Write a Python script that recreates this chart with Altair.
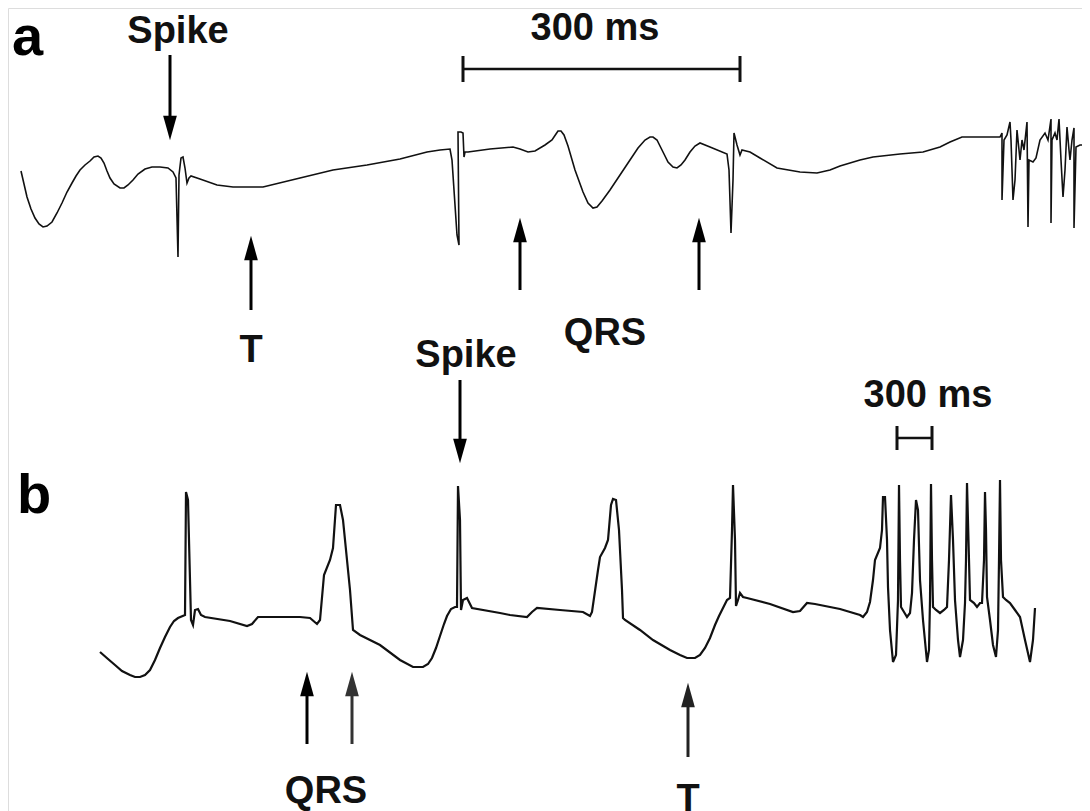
import altair as alt
import pandas as pd

# ---- trace a (time in px-units, amplitude in px-units, downward positive) ----
trace_a_t = [21, 24, 27, 31, 35, 39, 43, 47, 52, 57, 62, 67, 72, 76, 80, 85, 90, 94, 98, 101, 104, 107,
             110, 114, 120, 124, 128, 133, 138, 145, 152, 160, 168, 173, 176,
             178, 179, 181, 183, 185, 187, 189, 191, 200, 217, 233, 263, 300, 333, 367, 400, 427, 440,
             450, 452, 455, 457, 459, 458, 461, 463, 464, 465, 468, 490, 513, 520, 528, 535, 545, 552,
             556, 558, 561, 564, 568, 575, 583, 588, 593, 597, 602, 610, 620, 630, 638, 645, 650, 653, 657,
             660, 664, 668, 673, 677, 681, 685, 690, 695, 700,
             710, 727, 729, 731, 733, 734, 737, 740, 742, 746, 750, 760, 777, 800, 817, 830, 840, 860,
             873, 900, 923, 940, 950, 962, 1000, 1002, 1002, 1004, 1007, 1010, 1011, 1013, 1015, 1017,
             1019, 1020, 1022, 1024, 1027, 1028, 1029, 1033, 1036, 1040, 1045, 1048, 1051, 1051, 1052,
             1055, 1057, 1059, 1061, 1063, 1065, 1067, 1069, 1070, 1072, 1074, 1074, 1076, 1080, 1090]
trace_a_v = [171, 184, 197, 209, 218, 224, 227, 226, 222, 213, 203, 192, 183, 176, 170, 165, 161, 157, 156, 158, 163, 171,
             178, 184, 188, 188, 185, 180, 174, 169, 167, 167, 168, 172, 178,
             257, 175, 158, 157, 168, 183, 178, 176, 179, 185, 187, 187, 178, 170, 165, 159, 152, 150,
             149, 160, 205, 235, 245, 132, 132, 133, 157, 152, 152, 149, 147, 149, 152, 151, 145, 140,
             134, 131, 131, 135, 146, 170, 192, 203, 208, 207, 201, 190, 175, 160, 148, 140, 137, 137, 140,
             146, 154, 162, 167, 168, 165, 160, 152, 146, 143,
             147, 154, 170, 233, 180, 133, 145, 155, 150, 151, 152, 158, 168, 172, 173, 170, 166, 160,
             157, 154, 152, 147, 142, 137, 137, 133, 200, 140, 135, 122, 140, 200, 180, 130,
             150, 160, 140, 150, 122, 227, 160, 162, 158, 140, 133, 140, 119, 223, 140,
             133, 140, 119, 160, 197, 170, 127, 150, 160, 140, 128, 228, 147, 145, 145]

# ---- trace b ----
trace_b_t = [100, 108, 115, 122, 130, 135, 140, 145, 150, 155, 160, 165, 170, 174, 178, 185, 186, 188, 191, 193, 195, 198, 201, 205, 230, 247,
             252, 258, 262, 300, 310, 317, 320, 324, 330, 333, 336, 340, 343, 350, 353, 360, 380, 400,
             413, 423, 428, 432, 436, 440, 444, 447, 451, 455, 457, 458, 460, 461, 463, 467, 472, 500, 510, 527, 532, 537,
             560, 583, 590, 592, 598, 600, 605, 608, 611, 613, 616, 619, 622, 623, 625, 640, 653, 670,
             680, 687, 695, 700, 705, 710, 715, 719, 722, 727, 730, 732, 733, 735, 736, 738, 740, 743, 747, 770, 793, 800,
             807, 815, 840, 860, 863, 867, 870, 873, 875, 880, 882, 883, 885, 887, 888, 890, 893, 896,
             898, 899, 900, 901, 904, 907, 910, 912, 914, 916, 918, 920, 923, 927, 929, 930, 931, 932,
             933, 936, 940, 944, 947, 949, 951, 953, 955, 958, 960, 963, 965, 966, 967, 969, 970, 974,
             977, 980, 982, 984, 985, 986, 987, 990, 993, 996, 998, 999, 1000, 1001, 1003, 1006, 1010,
             1015, 1020, 1025, 1030, 1033, 1035]
trace_b_v = [652, 659, 665, 671, 675, 677, 677, 675, 670, 660, 648, 637, 627, 621, 618, 615, 492, 500, 620, 625, 610, 609, 615, 617, 621, 626,
             624, 617, 617, 617, 618, 624, 620, 575, 560, 548, 505, 505, 520, 590, 630, 635, 645, 660,
             667, 667, 664, 658, 648, 636, 624, 616, 609, 607, 607, 486, 520, 610, 600, 598, 608, 613, 615, 617, 612, 608,
             610, 612, 616, 612, 570, 557, 548, 540, 505, 499, 500, 530, 590, 618, 620, 630, 640, 650,
             655, 658, 658, 655, 648, 638, 625, 616, 610, 600, 598, 530, 485, 540, 606, 600, 593, 597, 598, 604, 612, 611,
             603, 604, 609, 615, 617, 612, 602, 580, 560, 548, 530, 497, 497, 540, 587, 630, 662, 655,
             600, 485, 560, 607, 612, 617, 613, 593, 540, 500, 510, 580, 620, 662, 650, 600, 484, 560,
             607, 610, 613, 610, 607, 560, 495, 540, 600, 640, 657, 640, 603, 560, 483, 560, 600, 603,
             607, 603, 603, 560, 492, 530, 597, 620, 645, 657, 630, 560, 480, 560, 597, 600, 603,
             610, 617, 640, 662, 640, 608]

# ---- annotations ----
label_text = ["a", "b"]
label_x = [12, 17]
label_y = [55, 513]

ann_text = ["Spike", "300 ms", "T", "QRS", "Spike", "300 ms", "QRS", "T"]
ann_x = [178, 595, 251, 605, 466, 928, 326, 688]
ann_y = [43, 40, 362, 345, 367, 407, 803, 811]

# arrows: x, tip y, tail y
arrow_x = [170, 251, 520, 699, 460, 307, 352, 688]
arrow_tip = [140, 236, 218, 218, 463, 672, 672, 683]
arrow_tail = [55, 310, 290, 290, 380, 744, 744, 757]
arrow_color = ["#000000", "#000000", "#000000", "#000000", "#000000", "#000000", "#333333", "#222222"]

# scale bars: x start, x end, y
bar_x1 = [463, 897]
bar_x2 = [740, 932]
bar_y = [69, 438]
bar_tick_half = [13, 12]

W, H = 1074, 803
xs = alt.Scale(domain=[8, 8 + W], nice=False, zero=False)
ys = alt.Scale(domain=[8, 8 + H], nice=False, zero=False, reverse=True)
X = lambda f: alt.X(f, type="quantitative", scale=xs, axis=None)
Y = lambda f: alt.Y(f, type="quantitative", scale=ys, axis=None)

df_a = pd.DataFrame({"t": trace_a_t, "v": trace_a_v, "i": range(len(trace_a_t))})
df_b = pd.DataFrame({"t": trace_b_t, "v": trace_b_v, "i": range(len(trace_b_t))})

line_a = alt.Chart(df_a).mark_line(color="#111111", strokeWidth=1.6, clip=True).encode(
    x=X("t"), y=Y("v"), order="i:Q")
line_b = alt.Chart(df_b).mark_line(color="#111111", strokeWidth=2.2, clip=True).encode(
    x=X("t"), y=Y("v"), order="i:Q")

df_arrow = pd.DataFrame({"x": arrow_x, "tip": arrow_tip, "tail": arrow_tail, "c": arrow_color})
df_arrow["up"] = df_arrow["tip"] < df_arrow["tail"]
df_arrow["head"] = [t + 12 if u else t - 12 for t, u in zip(df_arrow["tip"], df_arrow["up"])]
df_arrow["shaft_end"] = df_arrow["head"]

shafts = alt.Chart(df_arrow).mark_rule(strokeWidth=3).encode(
    x=X("x"), y=Y("tail"), y2="shaft_end:Q", color=alt.Color("c:N", scale=None))
heads_up = alt.Chart(df_arrow[df_arrow["up"]]).mark_point(
    shape="M -0.56 1 L 0 -1 L 0.56 1 Z", filled=True, size=600, opacity=1, strokeWidth=0).encode(
    x=X("x"), y=Y("head"), color=alt.Color("c:N", scale=None))
heads_down = alt.Chart(df_arrow[~df_arrow["up"]]).mark_point(
    shape="M -0.56 -1 L 0 1 L 0.56 -1 Z", filled=True, size=600, opacity=1, strokeWidth=0).encode(
    x=X("x"), y=Y("head"), color=alt.Color("c:N", scale=None))

df_bar = pd.DataFrame({"x1": bar_x1, "x2": bar_x2, "y": bar_y, "h": bar_tick_half})
df_bar["ytop"] = df_bar["y"] - df_bar["h"]
df_bar["ybot"] = df_bar["y"] + df_bar["h"]
bars = alt.Chart(df_bar).mark_rule(strokeWidth=2.5, color="#111111").encode(
    x=X("x1"), x2="x2:Q", y=Y("y"))
ticks_l = alt.Chart(df_bar).mark_rule(strokeWidth=3, color="#111111").encode(
    x=X("x1"), y=Y("ytop"), y2="ybot:Q")
ticks_r = alt.Chart(df_bar).mark_rule(strokeWidth=3, color="#111111").encode(
    x=X("x2"), y=Y("ytop"), y2="ybot:Q")

df_ann = pd.DataFrame({"text": ann_text, "x": ann_x, "y": ann_y})
texts = alt.Chart(df_ann).mark_text(
    font="Liberation Sans", fontWeight="bold", fontSize=38, align="center", baseline="alphabetic",
    color="#111111").encode(x=X("x"), y=Y("y"), text="text:N")

df_lab = pd.DataFrame({"text": label_text, "x": label_x, "y": label_y})
labels = alt.Chart(df_lab).mark_text(
    font="Liberation Sans", fontWeight="bold", fontSize=56, align="left", baseline="alphabetic",
    color="#000000").encode(x=X("x"), y=Y("y"), text="text:N")

chart = alt.layer(line_a, line_b, shafts, heads_up, heads_down, bars, ticks_l, ticks_r, texts, labels).properties(
    width=W, height=H, padding=0, autosize=alt.AutoSizeParams(type="none")
).configure_view(stroke=None).configure(background="white")

chart.save("out.html", embed_options={"renderer": "svg", "actions": False})
